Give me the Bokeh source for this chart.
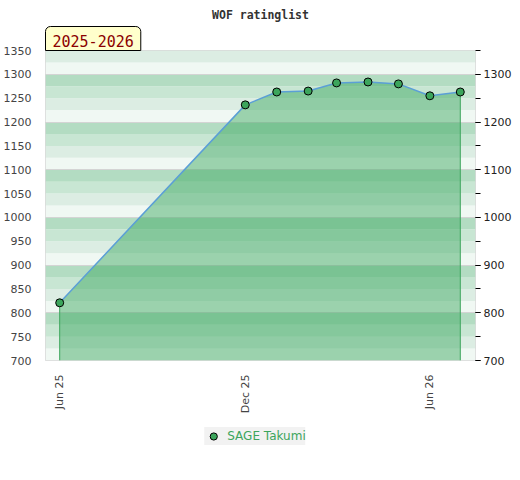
import pandas as pd
from math import pi
from bokeh.plotting import figure
from bokeh.layouts import column
from bokeh.models import (LinearAxis, SingleIntervalTicker, BoxAnnotation, Title,
                          Legend, LegendItem, MonthsTicker, DatetimeTickFormatter)
from bokeh.embed import file_html
from bokeh.resources import INLINE

# ---- data ----
dates = ["2025-06-01", "2025-12-01", "2026-01-01", "2026-02-01", "2026-03-01",
         "2026-04-01", "2026-05-01", "2026-06-01", "2026-07-01"]
ratings = [821, 1236, 1263, 1265, 1282, 1284, 1280, 1255, 1263]
player = "SAGE Takumi"
season = "2025-2026"
title = "WOF ratinglist"
x_start, x_end = "2025-05-18", "2026-07-16"
y_min, y_max = 700, 1350

x = pd.to_datetime(dates)

GREEN = "#3ca55c"
BAND_COLORS = ["#f0f8f3", "#dcede3", "#c8e6d3", "#b3dcc2"]

p = figure(x_axis_type="datetime", frame_width=430, frame_height=310,
           x_range=(pd.Timestamp(x_start), pd.Timestamp(x_end)),
           y_range=(y_min, y_max),
           output_backend="svg", toolbar_location=None,
           min_border_left=37, min_border_right=0, min_border_top=50,
           min_border_bottom=0, background_fill_color="white",
           border_fill_color="white")

p.outline_line_color = "#d9d9d9"
p.outline_line_width = 1

# main title (outermost)
p.title.text = title
p.title.align = "center"
p.title.text_font = "DejaVu Sans Mono"
p.title.text_font_style = "bold"
p.title.text_font_size = "11.5px"
p.title.text_color = "#333333"
p.title.standoff = 6

# season box (closest to the frame)
p.add_layout(Title(text=season, align="left", text_font="DejaVu Sans Mono",
                   text_font_size="15px", text_font_style="normal",
                   text_color="#8b0000", background_fill_color="#ffffcc",
                   border_line_color="black", border_line_width=1,
                   padding=dict(left=7, right=7, top=8, bottom=4),
                   border_radius=dict(top_left=5, top_right=5,
                                      bottom_right=0, bottom_left=0),
                   standoff=0, offset=0), "above")

# stripes
for i, v in enumerate(range(y_min, y_max, 25)):
    p.add_layout(BoxAnnotation(bottom=v, top=v + 25, fill_color=BAND_COLORS[i % 4],
                               fill_alpha=1, line_alpha=0, level="image"))

# grid
p.xgrid.grid_line_color = None
p.ygrid.ticker = SingleIntervalTicker(interval=100)
p.ygrid.grid_line_color = "#d4d4d4"
p.ygrid.grid_line_width = 1

# area
p.varea(x=x, y1=y_min, y2=ratings, fill_color="#37a55b", fill_alpha=0.46)
p.segment(x0=[x[0], x[-1]], y0=[y_min, y_min], x1=[x[0], x[-1]],
          y1=[ratings[0], ratings[-1]], line_color=GREEN, line_width=1)
p.line(x, ratings, line_color="#5b9fd6", line_width=1.5)
p.scatter(x, ratings, size=8, fill_color=GREEN, line_color="black", line_width=1)

# axes
ax = p.yaxis[0]
ax.ticker = SingleIntervalTicker(interval=50)
ax.axis_line_color = None
ax.major_tick_line_color = None
ax.minor_tick_line_color = None
ax.major_label_standoff = 8
ax.major_label_text_font = "DejaVu Sans"
ax.major_label_text_font_size = "11px"
ax.major_label_text_color = "#444444"

rax = LinearAxis(ticker=SingleIntervalTicker(interval=100, num_minor_ticks=2))
rax.axis_line_color = None
rax.major_tick_line_color = "black"
rax.major_tick_in = 0
rax.major_tick_out = 5
rax.minor_tick_line_color = "black"
rax.minor_tick_in = 0
rax.minor_tick_out = 5
rax.major_label_standoff = 3
rax.major_label_text_font = "DejaVu Sans"
rax.major_label_text_font_size = "11px"
rax.major_label_text_color = "#222222"
p.add_layout(rax, "right")

xa = p.xaxis[0]
xa.ticker = MonthsTicker(months=[5, 11])
xa.formatter = DatetimeTickFormatter(months="%b %y", days="%b %y", years="%b %y")
xa.axis_line_color = None
xa.major_tick_line_color = None
xa.minor_tick_line_color = None
xa.major_label_orientation = pi / 2
xa.major_label_standoff = 8
xa.major_label_text_font = "DejaVu Sans"
xa.major_label_text_font_size = "11px"
xa.major_label_text_color = "#444444"

# legend strip (own small figure so nothing is clipped)
lf = figure(width=504, height=40, toolbar_location=None, output_backend="svg",
            x_axis_location=None, y_axis_location=None, x_range=(0, 1), y_range=(0, 1),
            min_border=0, background_fill_color="white", border_fill_color="white")
lf.outline_line_color = None
lf.grid.grid_line_color = None
lpts = lf.scatter(x, ratings, size=8, fill_color=GREEN, line_color="black", line_width=1)
leg = Legend(items=[LegendItem(label=player, renderers=[lpts])], location="center",
             orientation="horizontal", background_fill_color="#f2f2f2",
             background_fill_alpha=1, border_line_color=None, padding=3,
             margin=0, glyph_width=18, glyph_height=18, label_height=14,
             label_standoff=5,
             label_text_font="DejaVu Sans", label_text_font_size="12px",
             label_text_color=GREEN)
lf.add_layout(leg, "center")

layout = column(p, lf, spacing=0)
open("out.html", "w").write(file_html(layout, INLINE))
